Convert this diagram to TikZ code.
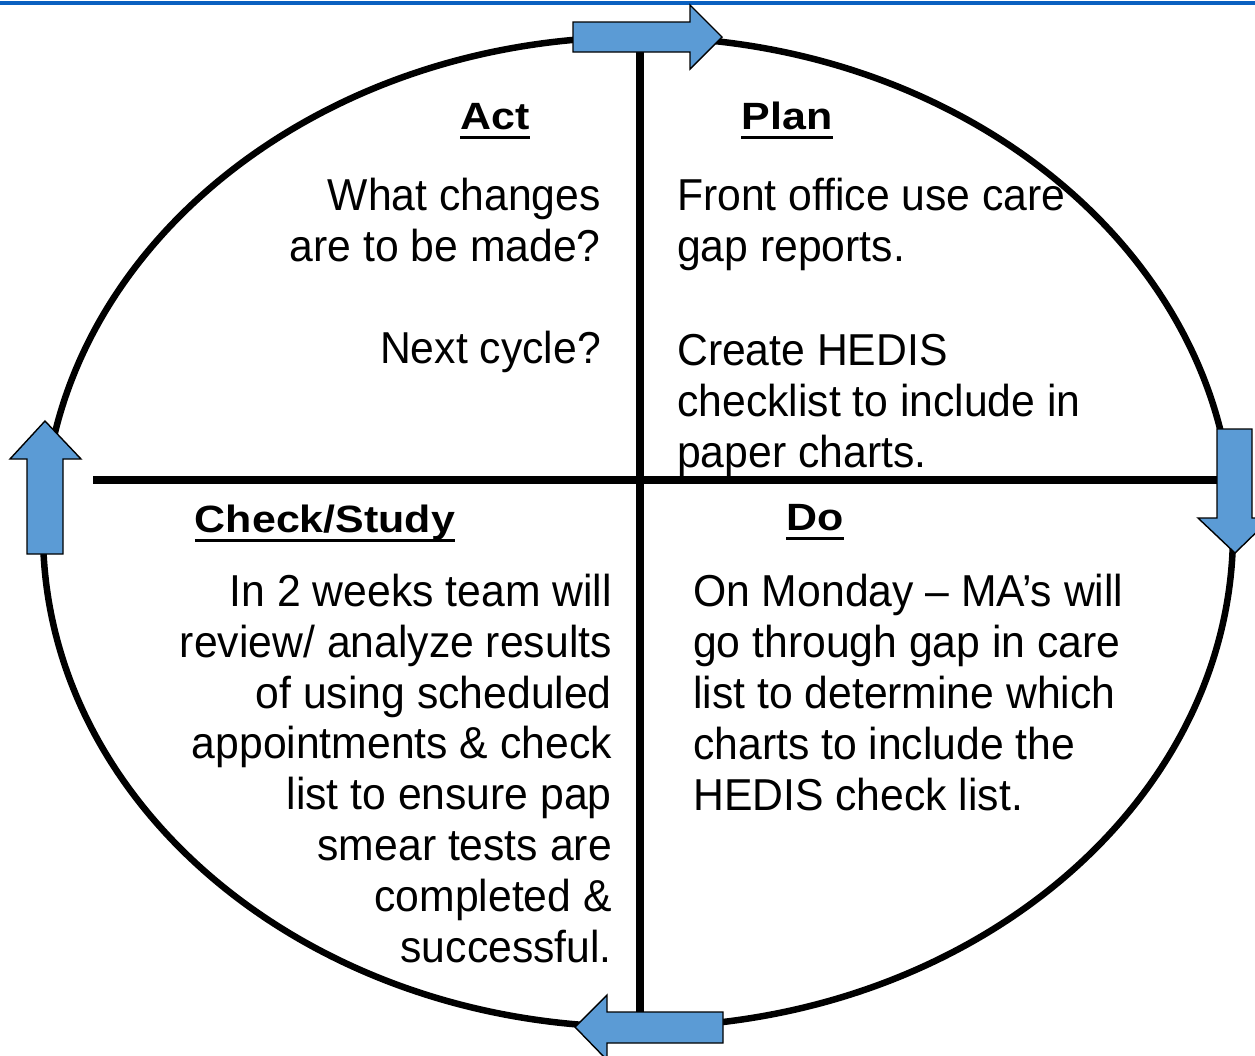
\documentclass[tikz,border=0pt]{standalone}
\usepackage{fontspec}
\setmainfont{Liberation Sans}
\newfontfamily\bodyfont[FakeStretch=0.955]{Liberation Sans}
\newfontfamily\headfont[FakeStretch=1.13]{Liberation Sans}
\definecolor{topblue}{RGB}{10,96,192}
\definecolor{arrowblue}{RGB}{91,155,213}
\begin{document}
\begin{tikzpicture}[x=1pt,y=-1pt,
  heading/.style={font=\headfont\bfseries\fontsize{38}{40}\selectfont, inner sep=0pt, anchor=base},
  bodyR/.style={font=\bodyfont\fontsize{44.7}{50.8}\selectfont, inner sep=0pt, align=right, anchor=base east},
  bodyL/.style={font=\bodyfont\fontsize{44.7}{50.8}\selectfont, inner sep=0pt, align=left, anchor=base west},
  uline/.style={line width=3pt},
  cycarrow/.style={fill=arrowblue, draw=black, line width=1.4pt, line join=miter},
  bar/.style={line width=7.5pt}]
\useasboundingbox (0,0) rectangle (1255,1055);
% top rule
\draw[topblue, line width=4pt] (0,3) -- (1255,3);
% cycle
\draw[line width=6.5pt] (638,532) ellipse [x radius=595, y radius=495];
\coordinate (vtop) at (640,52);
\coordinate (vbot) at (640,1012);
\coordinate (hleft) at (93,480);
\coordinate (hright) at (1217,480);
\draw[bar] (vtop) -- (vbot);
\draw[bar] (hleft) -- (hright);
% headings
\node[heading] (act) at (495,129) {Act};
\node[heading] (plan) at (787,129) {Plan};
\node[heading] (check) at (325,532) {Check/Study};
\node[heading] (do) at (815,530) {Do};
\foreach \n in {act,plan,check,do}
  \draw[uline] ([yshift=-8pt]\n.base west) -- ([yshift=-8pt]\n.base east);
% texts (anchored at the baseline of the last line)
\node[bodyR] (actq) at (601,261) {What changes\\are to be made?};
\node[bodyR] (actn) at (601,363) {Next cycle?};
\node[bodyL] (plan1) at (677,261) {Front office use care\\gap reports.};
\node[bodyL] (plan2) at (677,467) {Create HEDIS\\checklist to include in\\paper charts.};
\node[bodyL] (dotext) at (693,810) {On Monday – MA’s will\\go through gap in care\\list to determine which\\charts to include the\\HEDIS check list.};
\node[bodyR] (checktext) at (612,962) {In 2 weeks team will\\review/ analyze results\\of using scheduled\\appointments \& check\\list to ensure pap\\smear tests are\\completed \&\\successful.};
% cycle arrows
\draw[cycarrow] (573,22) -- (690,22) -- (690,5) -- (722,37) -- (690,69) -- (690,52) -- (573,52) -- cycle;
\draw[cycarrow] (1217,429) -- (1252,429) -- (1252,518) -- (1271,518) -- (1235,553) -- (1198,518) -- (1217,518) -- cycle;
\draw[cycarrow] (723,1012) -- (723,1043) -- (607,1043) -- (607,1060) -- (575,1027) -- (607,995) -- (607,1012) -- cycle;
\draw[cycarrow] (27,554) -- (27,459) -- (10,459) -- (45,421) -- (81,459) -- (63,459) -- (63,554) -- cycle;
\end{tikzpicture}
\end{document}
